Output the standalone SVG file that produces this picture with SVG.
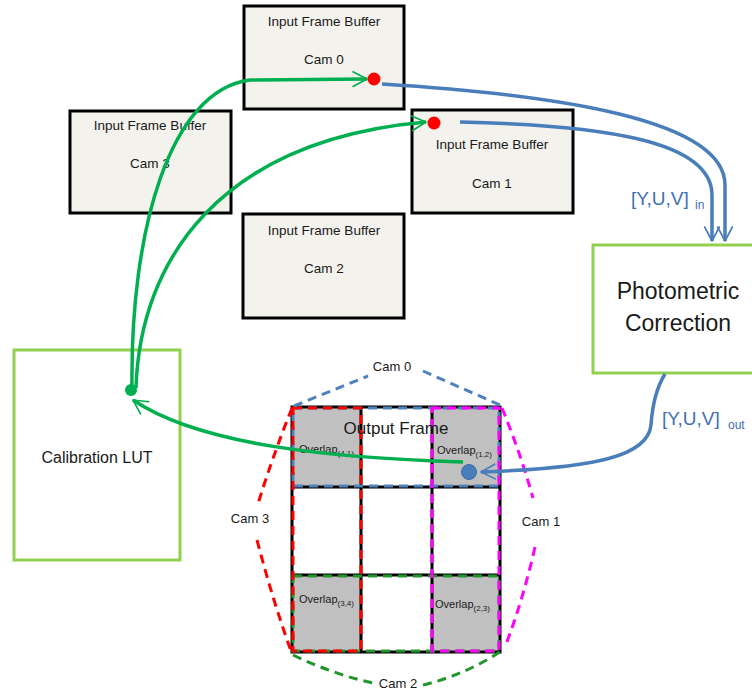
<svg xmlns="http://www.w3.org/2000/svg" width="752" height="691" viewBox="0 0 752 691">
<defs>
<style>
text{font-family:"Liberation Sans",Arial,sans-serif;fill:#1a1a1a}
.buf{fill:#f3f2ec;stroke:#000;stroke-width:3}
.bt{font-size:13.5px;text-anchor:middle}
.proc{fill:#fff;stroke:#92d050;stroke-width:3}
.grn{fill:none;stroke:#00b050;stroke-width:3.5}
.blu{fill:none;stroke:#4a7ebb;stroke-width:3.5}
.yuv{font-size:19px;fill:#3f6fb5}
.sub{font-size:12px;fill:#3f6fb5}
.ov{font-size:11px}
.ovs{font-size:8px}
.grid{fill:none;stroke:#000;stroke-width:3}
.dash{fill:none;stroke-width:3;stroke-dasharray:9 6}
.cam{font-size:13px;text-anchor:middle}
</style>
<marker id="ag" viewBox="0 0 10 10" refX="9" refY="5" markerWidth="5" markerHeight="5" orient="auto" markerUnits="strokeWidth">
<path d="M1,0.8 L9,5 L1,9.2" fill="none" stroke="#00b050" stroke-width="0.95" stroke-linecap="round" stroke-linejoin="round"/>
</marker>
<marker id="ab" viewBox="0 0 10 10" refX="9" refY="5" markerWidth="5" markerHeight="5" orient="auto" markerUnits="strokeWidth">
<path d="M1,0.8 L9,5 L1,9.2" fill="none" stroke="#4a7ebb" stroke-width="0.95" stroke-linecap="round" stroke-linejoin="round"/>
</marker>
</defs>
<rect width="752" height="691" fill="#fff"/>

<g id="buf0"><rect class="buf" x="244" y="6" width="160" height="103"/><text class="bt" x="324" y="26">Input Frame Buffer</text><text class="bt" x="324" y="64">Cam 0</text></g>
<g id="buf3"><rect class="buf" x="70" y="111" width="161" height="102"/><text class="bt" x="150" y="130">Input Frame Buffer</text><text class="bt" x="150" y="168">Cam 3</text></g>
<g id="buf1"><rect class="buf" x="412" y="110" width="161" height="103"/><text class="bt" x="492" y="149">Input Frame Buffer</text><text class="bt" x="492" y="188">Cam 1</text></g>
<g id="buf2"><rect class="buf" x="243" y="214" width="161" height="104"/><text class="bt" x="324" y="235">Input Frame Buffer</text><text class="bt" x="324" y="273">Cam 2</text></g>

<g id="photometric"><rect class="proc" x="593" y="245" width="170" height="128"/><text x="678" y="299" font-size="23" text-anchor="middle">Photometric</text><text x="678" y="331" font-size="23" text-anchor="middle">Correction</text></g>
<g id="calib"><rect class="proc" x="14" y="350" width="166" height="210"/><text x="97" y="463" font-size="16" text-anchor="middle">Calibration LUT</text></g>

<g id="output">
<rect x="292" y="407" width="69" height="80" fill="#c0c0c0"/>
<rect x="432" y="407" width="68" height="80" fill="#c0c0c0"/>
<rect x="292" y="575" width="69" height="77" fill="#c0c0c0"/>
<rect x="432" y="575" width="68" height="77" fill="#c0c0c0"/>
<rect class="grid" x="292" y="407" width="208" height="245"/>
<path class="grid" d="M361,407V652M432,407V652M292,487H500M292,575H500"/>
<rect class="dash" x="293" y="408" width="206" height="78" stroke="#4f81bd"/>
<rect class="dash" x="293" y="576" width="206" height="75" stroke="#22962a"/>
<rect class="dash" x="293" y="408" width="68" height="243" stroke="#ff0000"/>
<rect class="dash" x="432" y="408" width="67" height="243" stroke="#ff00ff"/>
<text x="396" y="434" font-size="17" text-anchor="middle">Output Frame</text>
<text class="ov" x="299" y="453">Overlap<tspan class="ovs" dy="3">(4,1)</tspan></text>
<text class="ov" x="437" y="454">Overlap<tspan class="ovs" dy="3">(1,2)</tspan></text>
<text class="ov" x="299" y="603">Overlap<tspan class="ovs" dy="3">(3,4)</tspan></text>
<text class="ov" x="435" y="608">Overlap<tspan class="ovs" dy="3">(2,3)</tspan></text>
</g>

<g id="hulls">
<path class="dash" stroke="#4f81bd" d="M294,406 L368,376 M423,371 L500,405"/>
<text class="cam" x="392" y="371">Cam 0</text>
<path class="dash" stroke="#ff0000" d="M292,408 Q272,458 257,507 M257,540 Q272,598 291,651"/>
<text class="cam" x="250" y="523">Cam 3</text>
<path class="dash" stroke="#ff00ff" d="M502,408 Q520,452 533,498 M535,547 Q523,600 505,647"/>
<text class="cam" x="541" y="526">Cam 1</text>
<path class="dash" stroke="#22962a" d="M293,655 Q335,675 373,683 M423,685 Q465,675 503,650"/>
<text class="cam" x="398" y="688">Cam 2</text>
</g>

<g id="connectors">
<path class="grn" d="M132,388 C130,230 170,90 250,80 L367,79" marker-end="url(#ag)"/>
<path class="grn" d="M136,388 C140,260 220,140 426,122" marker-end="url(#ag)"/>
<path class="grn" d="M463,462 C330,458 200,445 133,400" marker-end="url(#ag)"/>
<path class="blu" d="M382,84 C560,95 725,120 725,185 L725,241" marker-end="url(#ab)"/>
<path class="blu" d="M460,122 C600,125 712,140 712,195 L712,241" marker-end="url(#ab)"/>
<path class="blu" d="M665,374 C655,390 652,410 651,425 C648,455 600,468 481,472" marker-end="url(#ab)"/>
<circle cx="374" cy="79" r="6.5" fill="#ff0000"/>
<circle cx="434" cy="123" r="6.5" fill="#ff0000"/>
<circle cx="131" cy="390" r="6" fill="#00b050"/>
<circle cx="469" cy="472" r="7.5" fill="#4a7ebb" stroke="#3a6aa5" stroke-width="1"/>
<text class="yuv" x="631" y="205">[Y,U,V]<tspan class="sub" x="695" y="209">in</tspan></text>
<text class="yuv" x="662" y="425">[Y,U,V]<tspan class="sub" x="728" y="429">out</tspan></text>
</g>
</svg>
